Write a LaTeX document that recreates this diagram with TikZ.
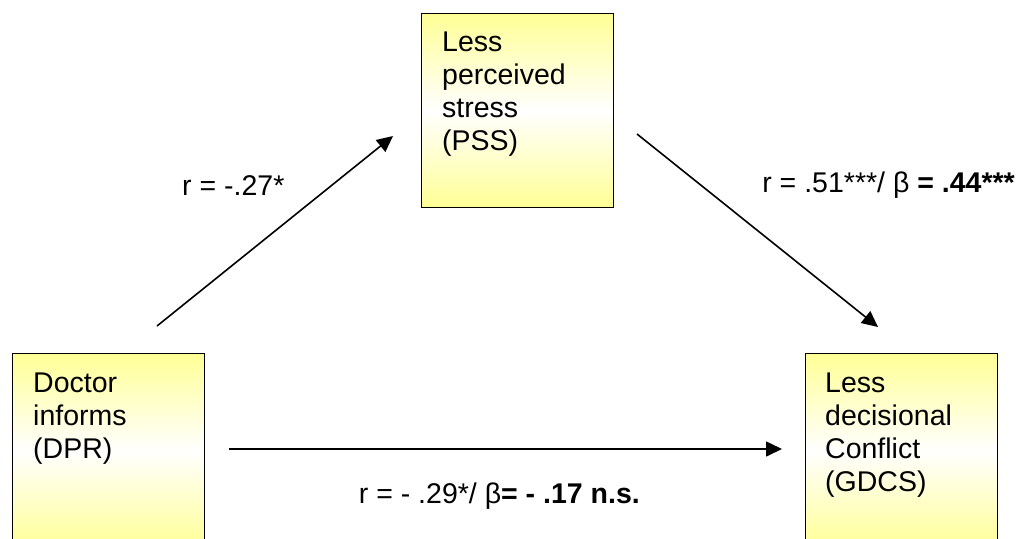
\documentclass[tikz,border=0pt]{standalone}
\usepackage{fontspec}
\setmainfont{Liberation Sans}
\usetikzlibrary{arrows.meta}
\definecolor{boxyellow}{RGB}{255,255,150}
\begin{document}
\begin{tikzpicture}[x=1pt,y=-1pt,
  box/.style={draw=black, line width=1.4pt, top color=boxyellow, bottom color=boxyellow, middle color=white, minimum width=192pt, minimum height=194pt, anchor=north west, inner sep=0pt},
  boxtext/.style={anchor=north west, inner sep=0pt, align=left, font=\fontsize{28.5}{33}\selectfont},
  lbl/.style={inner sep=0pt, font=\fontsize{28.5}{33}\selectfont},
  arr/.style={line width=1.6pt, -{Triangle[length=16pt,width=15pt]}}]
\path[use as bounding box] (0,0) rectangle (1019,538);
\clip (0,0) rectangle (1019,538);
% boxes
\node[box] (pss) at (421,13) {};
\node[box] (dpr) at (12,353) {};
\node[box] (gdcs) at (805,353) {};
% box texts
\node[boxtext] (psst) at (442,32) {Less\\perceived\\stress\\(PSS)};
\node[boxtext] (dprt) at (33,373) {Doctor\\informs\\(DPR)};
\node[boxtext] (gdcst) at (825,373) {Less\\decisional\\Conflict\\(GDCS)};
% connectors
\coordinate (a1s) at (157,326);
\coordinate (a1e) at (393,136);
\coordinate (a2s) at (637,134);
\coordinate (a2e) at (878,327);
\coordinate (a3s) at (229,449);
\coordinate (a3e) at (782,449);
\draw[arr] (a1s) -- (a1e);
\draw[arr] (a2s) -- (a2e);
\draw[arr] (a3s) -- (a3e);
% labels
\node[lbl, anchor=base west] (l1) at (182,195) {r = -.27*};
\node[lbl, anchor=base east] (l2) at (1015,192) {r = .51***/ β \textbf{= .44***}};
\node[lbl, anchor=base east] (l3) at (640,503) {r = - .29*/ β\textbf{= - .17 n.s.}};
\end{tikzpicture}
\end{document}
